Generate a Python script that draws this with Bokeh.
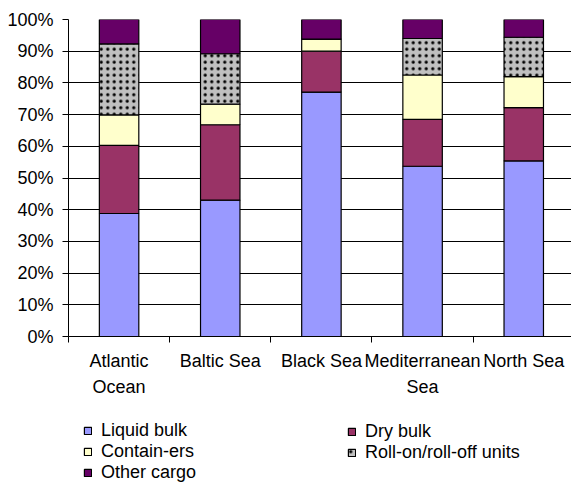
from bokeh.plotting import figure
from bokeh.layouts import column
from bokeh.models import (Range1d, LinearAxis, FixedTicker, PrintfTickFormatter,
                          Grid, Legend, LegendItem, ColumnDataSource)
from bokeh.embed import file_html
from bokeh.resources import INLINE

categories = ["Atlantic Ocean", "Baltic Sea", "Black Sea", "Mediterranean Sea", "North Sea"]
x_labels = ["Atlantic\nOcean", "Baltic Sea", "Black Sea", "Mediterranean\nSea", "North Sea"]
series = ["Liquid bulk", "Dry bulk", "Contain-ers", "Roll-on/roll-off units", "Other cargo"]
liquid_bulk = [38.8, 43.0, 77.1, 53.7, 55.4]
dry_bulk = [21.5, 23.8, 12.9, 14.8, 16.8]
containers = [9.6, 6.5, 3.8, 14.0, 9.8]
roro = [22.4, 15.9, 0.0, 11.5, 12.4]
other_cargo = [7.7, 10.8, 6.2, 6.0, 5.6]
y_ticks = [0, 10, 20, 30, 40, 50, 60, 70, 80, 90, 100]

colors = ["#9999FF", "#993366", "#FFFFCC", "#C0C0C0", "#660066"]
hatches = [None, None, None, "dot", None]
FONT = "Liberation Sans"

xpos = [i + 0.5 for i in range(len(categories))]
keys = ["liq", "dry", "cont", "roro", "oth"]
src = ColumnDataSource(dict(x=xpos, cat=categories, liq=liquid_bulk, dry=dry_bulk,
                            cont=containers, roro=roro, oth=other_cargo))

W = 571
p = figure(width=W, height=399, x_range=Range1d(0, 4.972), y_range=Range1d(0, 100),
           output_backend="svg", toolbar_location=None, x_axis_type=None, y_axis_type=None,
           min_border_left=68, min_border_right=0, min_border_top=19, min_border_bottom=61)
p.outline_line_color = None

yaxis = LinearAxis(ticker=FixedTicker(ticks=y_ticks), formatter=PrintfTickFormatter(format="%d%%"))
yaxis.major_tick_out = 6
yaxis.major_tick_in = 0
yaxis.minor_tick_out = 0
yaxis.minor_tick_in = 0
yaxis.major_label_standoff = 9
yaxis.major_label_text_font = FONT
yaxis.major_label_text_font_size = "18px"
yaxis.major_label_text_color = "black"
yaxis.axis_line_color = "black"
yaxis.major_tick_line_color = "black"
p.add_layout(yaxis, "left")

xaxis = LinearAxis(ticker=FixedTicker(ticks=xpos, minor_ticks=list(range(len(categories) + 1))))
xaxis.major_label_overrides = {x: lab for x, lab in zip(xpos, x_labels)}
xaxis.major_tick_out = 0
xaxis.major_tick_in = 0
xaxis.minor_tick_out = 6
xaxis.minor_tick_in = 0
xaxis.minor_tick_line_color = "black"
xaxis.major_label_standoff = 8
xaxis.major_label_text_font = FONT
xaxis.major_label_text_font_size = "18px"
xaxis.major_label_text_color = "black"
xaxis.major_label_text_line_height = 1.32
xaxis.axis_line_color = "black"
p.add_layout(xaxis, "below")

p.add_layout(Grid(dimension=1, ticker=yaxis.ticker, grid_line_color="black", grid_line_width=1))

HATCH = dict(hatch_color="black", hatch_scale=6.5, hatch_weight=0.6)
rs = p.vbar_stack(keys, x="x", width=0.39, source=src, fill_color=colors,
                  line_color="black", line_width=1.2)
rs[3].glyph.hatch_pattern = "dot"
for k, v in HATCH.items():
    setattr(rs[3].glyph, k, v)

# legend strip below the chart (frames of the column's plots are aligned at x=68)
lf = figure(width=W, height=84, x_range=Range1d(0, 1), y_range=Range1d(0, 1),
            output_backend="svg", toolbar_location=None, x_axis_type=None, y_axis_type=None,
            min_border=0)
lf.outline_line_color = None
dummy = []
for c, h in zip(colors, hatches):
    kw = dict(hatch_pattern=h, **HATCH) if h else {}
    dummy.append(lf.vbar(x=[10], top=[0], width=0.5, fill_color=c, line_color="black",
                         line_width=1.2, **kw))

def mk_legend(idx, loc):
    lg = Legend(items=[LegendItem(label=series[i], renderers=[dummy[i]]) for i in idx],
                location=loc, orientation="vertical")
    lg.border_line_color = None
    lg.background_fill_alpha = 0
    lg.padding = 0
    lg.margin = 0
    lg.spacing = 0
    lg.glyph_width = 9
    lg.glyph_height = 9
    lg.label_standoff = 9
    lg.label_text_font = FONT
    lg.label_text_font_size = "18px"
    lg.label_text_color = "black"
    lg.label_height = 19
    return lg

lf.add_layout(mk_legend([0, 2, 4], (15, 0)))
lf.add_layout(mk_legend([1, 3], (279, 20)))

open("out.html", "w").write(file_html(column(p, lf, spacing=0), INLINE))
